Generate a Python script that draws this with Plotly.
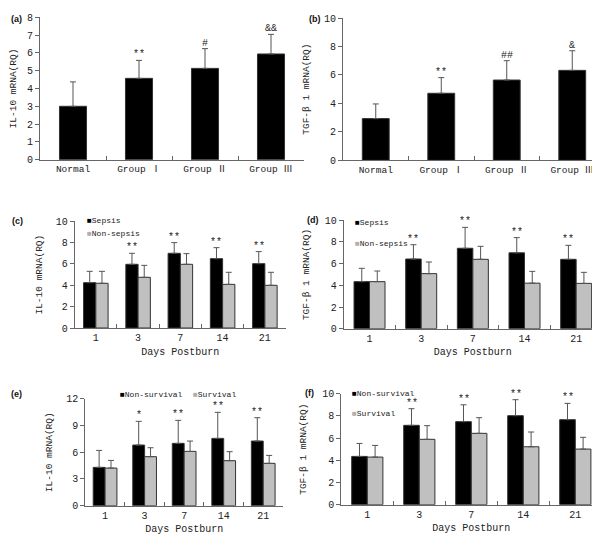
import plotly.graph_objects as go

# ---------------- data ----------------
groups = ["Normal", "Group Ⅰ", "Group Ⅱ", "Group Ⅲ"]
a_vals = [3.0, 4.57, 5.13, 5.94]
a_err = [1.37, 1.01, 1.11, 1.10]
a_sig = ["", "**", "#", "&&"]

b_vals = [2.93, 4.71, 5.64, 6.32]
b_err = [1.03, 1.10, 1.36, 1.38]
b_sig = ["", "**", "##", "&"]

days = ["1", "3", "7", "14", "21"]

c_sepsis = [4.25, 5.97, 7.0, 6.5, 6.03]
c_sepsis_err = [1.06, 1.03, 1.0, 1.03, 1.13]
c_non = [4.19, 4.75, 5.97, 4.09, 4.0]
c_non_err = [1.12, 1.12, 1.0, 1.13, 1.22]
c_sig = ["", "**", "**", "**", "**"]

d_sepsis = [4.34, 6.43, 7.42, 7.0, 6.4]
d_sepsis_err = [1.23, 1.32, 1.93, 1.4, 1.29]
d_non = [4.34, 5.08, 6.4, 4.2, 4.18]
d_non_err = [0.98, 1.07, 1.2, 1.09, 1.02]
d_sig = ["", "**", "**", "**", "**"]

e_nonsurv = [4.3, 6.8, 6.99, 7.55, 7.25]
e_nonsurv_err = [1.9, 2.66, 2.58, 2.92, 2.62]
e_surv = [4.22, 5.5, 6.09, 5.05, 4.75]
e_surv_err = [0.86, 1.0, 1.16, 1.01, 0.89]
e_sig = ["", "*", "**", "**", "**"]

f_nonsurv = [4.35, 7.15, 7.48, 8.02, 7.66]
f_nonsurv_err = [1.17, 1.5, 1.52, 1.44, 1.47]
f_surv = [4.29, 5.89, 6.43, 5.22, 5.01]
f_surv_err = [1.05, 1.23, 1.41, 1.33, 1.06]
f_sig = ["", "**", "**", "**", "**"]

# ---------------- style ----------------
W, H = 600, 557
FONT = "Liberation Mono, Noto Sans CJK SC, monospace"
TXT = "#222222"
AXC = "#666666"
BLACK = "#000000"
GRAY = "#c0c0c0"
EDGE = "#333333"


def xd(a, b):
    return [a / W, b / W]


def yd(top, bottom):
    return [1 - bottom / H, 1 - top / H]


def err(arr):
    return dict(type="data", array=arr, arrayminus=[0] * len(arr), symmetric=False,
                color="#555555", thickness=1, width=3)


fig = go.Figure()

panels = [
    # key, x-domain, y-domain, range, dtick, ytitle, xtitle, title standoff
    ("", xd(32, 296), yd(9.3, 151.7), [0, 8], 1, "IL-10 mRNA(RQ)", None, 11),
    ("2", xd(335, 597), yd(10, 152.3), [0, 10], 2, "TGF-β 1 mRNA(RQ)", None, 12),
    ("3", xd(66.7, 278), yd(213.3, 320), [0, 10], 2, "IL-10 mRNA(RQ)", "Days Postburn", 11),
    ("4", xd(335.7, 594), yd(212.3, 320.7), [0, 10], 2, "TGF-β 1 mRNA(RQ)", "Days Postburn", 13),
    ("5", xd(77.3, 275), yd(390.7, 497.7), [0, 12], 3, "IL-10 mRNA(RQ)", "Days Postburn", 11),
    ("6", xd(333.3, 593.3), yd(385.7, 496.7), [0, 10], 2, "TGF-β 1 mRNA(RQ)", "Days Postburn", 13),
]

layout = dict(
    width=W, height=H,
    margin=dict(l=0, r=0, t=0, b=0),
    paper_bgcolor="white", plot_bgcolor="white",
    font=dict(family=FONT, size=10, color=TXT),
    barmode="overlay",
    showlegend=False,
)

for key, xdom, ydom, rng, dt, ytitle, xtitle, so in panels:
    layout["xaxis" + key] = dict(
        domain=xdom, anchor="y" + key, type="category",
        showline=True, linecolor=AXC, linewidth=1,
        ticks="inside", tickson="boundaries", ticklen=4, tickcolor=AXC,
        showgrid=False, zeroline=False, fixedrange=True,
        tickfont=dict(family=FONT, size=10 if xtitle else 9.5, color=TXT),
        title=dict(text=xtitle, font=dict(family=FONT, size=10, color=TXT), standoff=4) if xtitle else None,
        automargin=False,
    )
    layout["yaxis" + key] = dict(
        domain=ydom, anchor="x" + key, range=rng, dtick=dt, tick0=0,
        showline=True, linecolor=AXC, linewidth=1,
        ticks="outside", ticklen=4, tickcolor=AXC,
        showgrid=False, zeroline=False, fixedrange=True,
        tickfont=dict(family=FONT, size=10, color=TXT),
        title=dict(text=ytitle, font=dict(family=FONT, size=9.5, color=TXT), standoff=so),
        automargin=False,
    )

# ---- (a) and (b): single bars ----
for key, vals, errs, sig in [("", a_vals, a_err, a_sig), ("2", b_vals, b_err, b_sig)]:
    fig.add_trace(go.Bar(
        x=groups, y=vals, width=0.41, marker=dict(color=BLACK, line=dict(color=EDGE, width=1)),
        error_y=err(errs), xaxis="x" + key, yaxis="y" + key, showlegend=False,
    ))

# ---- (c)-(f): grouped bars ----
grouped = [
    ("3", ("Sepsis", c_sepsis, c_sepsis_err), ("Non-sepsis", c_non, c_non_err), 0.29),
    ("4", ("Sepsis", d_sepsis, d_sepsis_err), ("Non-sepsis", d_non, d_non_err), 0.30),
    ("5", ("Non-survival", e_nonsurv, e_nonsurv_err), ("Survival", e_surv, e_surv_err), 0.30),
    ("6", ("Non-survival", f_nonsurv, f_nonsurv_err), ("Survival", f_surv, f_surv_err), 0.30),
]
for key, s1, s2, w in grouped:
    fig.add_trace(go.Bar(
        x=days, y=s1[1], name=s1[0], width=w, offset=-w,
        marker=dict(color=BLACK, line=dict(color=EDGE, width=1)),
        error_y=err(s1[2]), xaxis="x" + key, yaxis="y" + key,
    ))
    fig.add_trace(go.Bar(
        x=days, y=s2[1], name=s2[0], width=w, offset=0,
        marker=dict(color=GRAY, line=dict(color=EDGE, width=1)),
        error_y=err(s2[2]), xaxis="x" + key, yaxis="y" + key,
    ))

# ---- significance marks ----
annotations = []
sig_sets = [
    ("", a_vals, a_err, a_sig, 0.0),
    ("2", b_vals, b_err, b_sig, 0.0),
    ("3", c_sepsis, c_sepsis_err, c_sig, -0.145),
    ("4", d_sepsis, d_sepsis_err, d_sig, -0.15),
    ("5", e_nonsurv, e_nonsurv_err, e_sig, -0.15),
    ("6", f_nonsurv, f_nonsurv_err, f_sig, -0.15),
]
for key, vals, errs, sig, off in sig_sets:
    for i, s in enumerate(sig):
        if not s:
            continue
        annotations.append(dict(
            x=i + off, y=vals[i] + errs[i], xref="x" + key, yref="y" + key,
            text=s, showarrow=False, yanchor="bottom", yshift=-2,
            font=dict(family=FONT, size=10, color=TXT),
        ))

# ---- panel labels ----
for lab, x, y in [("(a)", 8, 11), ("(b)", 307, 11), ("(c)", 9, 213), ("(d)", 305, 212),
                  ("(e)", 8, 386), ("(f)", 301, 385)]:
    annotations.append(dict(
        x=x / W, y=1 - y / H, xref="paper", yref="paper", text="<b>" + lab + "</b>",
        showarrow=False, xanchor="center", yanchor="middle",
        font=dict(family="Liberation Sans, Arial, sans-serif", size=9, color="#111111"),
    ))

# ---- legends (square key + series name) ----
def key_text(name, color):
    return '<span style="color:%s">■</span>%s' % (color, name)

legend_items = [
    (grouped[0][1][0], BLACK, 77, 212), (grouped[0][2][0], "#b0b0b0", 77, 225),
    (grouped[1][1][0], BLACK, 345, 214), (grouped[1][2][0], "#b0b0b0", 345, 235),
    (grouped[2][1][0], BLACK, 110, 386), (grouped[2][2][0], "#b0b0b0", 183, 386),
    (grouped[3][1][0], BLACK, 342, 385), (grouped[3][2][0], "#b0b0b0", 342, 405),
]
for name, col, x, y in legend_items:
    annotations.append(dict(
        x=x / W, y=1 - y / H, xref="paper", yref="paper", text=key_text(name, col),
        showarrow=False, xanchor="left", yanchor="middle",
        font=dict(family=FONT, size=8, color=TXT),
    ))
layout["annotations"] = annotations

fig.update_layout(**layout)
fig.write_html("out.html")
